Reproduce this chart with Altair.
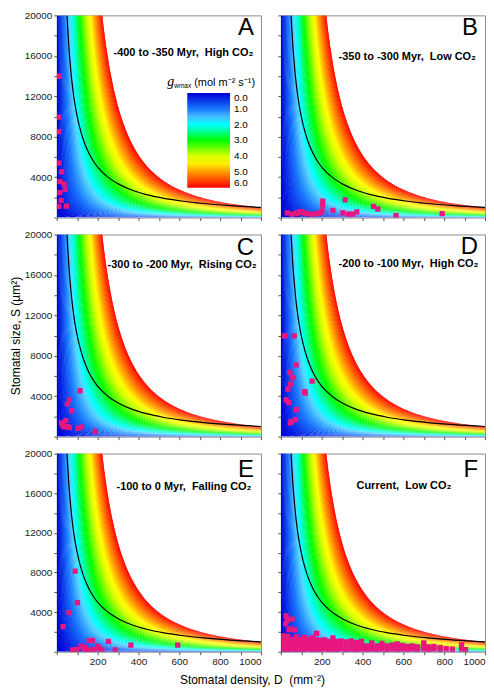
import altair as alt
import numpy as np
import pandas as pd

# ---------------- point data (D = stomatal density mm^-2, S = stomatal size um^2) -------------
A_D = [10, 10, 10, 10, 24, 16, 36, 41, 15, 21, 10, 47]
A_S = [13980, 9940, 8490, 5380, 4530, 3560, 3300, 2790, 2460, 1690, 1110, 1140]

B_D = [31, 55, 80, 104, 128, 153, 177, 193, 75, 96, 112, 202, 205, 205, 255, 304, 315,
       332, 351, 372, 454, 475, 564, 790]
B_S = [456, 330, 390, 524, 390, 330, 390, 456, 456, 583, 456, 650, 1620, 1230, 718, 456,
       1750, 330, 330, 553, 1100, 845, 200, 390]

C_D = [114, 62, 52, 73, 44, 23, 36, 62, 104, 121, 189, 30, 50]
C_S = [4540, 3630, 3210, 2560, 1590, 1360, 970, 910, 810, 970, 520, 1100, 1000]

D_D = [18, 65, 75, 44, 59, 153, 47, 34, 117, 120, 26, 39, 75, 72, 47, 52]
D_S = [9960, 9960, 7110, 6360, 5840, 5480, 5190, 4700, 4440, 4300, 3630, 3370, 2660,
       1690, 1360, 1500]

E_D = [90, 101, 60, 31, 158, 175, 253, 118, 200, 363, 592, 77, 98, 131, 155, 180, 221,
       286, 140, 205]
E_S = [8140, 4960, 3940, 2545, 1120, 1150, 1050, 560, 560, 660, 660, 190, 200, 260, 190,
       230, 200, 190, 450, 350]

F_D = [15, 15, 15, 15, 35, 35, 35, 35, 55, 55, 55, 75, 75, 75, 75, 95, 95, 95,
       115, 115, 115, 115, 135, 135, 135, 155, 155, 155, 155, 175, 175, 175, 175,
       195, 195, 195, 215, 215, 215, 235, 235, 235, 255, 255, 255, 255, 275, 275, 275,
       295, 295, 295, 320, 320, 320, 345, 345, 345, 370, 370, 370, 395, 395, 395,
       420, 420, 445, 445, 445, 470, 470, 495, 495, 495, 520, 520, 545, 545,
       570, 570, 570, 595, 595, 620, 620, 645, 645, 670, 670, 700, 700, 700,
       725, 725, 750, 750, 780, 780, 810, 840, 885, 885, 905,
       26, 31, 55, 23, 47, 68, 40]
F_S = [300, 750, 1200, 1600, 250, 700, 1150, 1550, 350, 800, 1250, 250, 650, 1100, 1500,
       300, 750, 1200, 250, 700, 1150, 1450, 350, 800, 1250, 250, 650, 1100, 1400,
       300, 750, 1200, 1850, 250, 700, 1150, 350, 800, 1200, 250, 650, 1050,
       300, 750, 1150, 1400, 250, 700, 1050, 350, 800, 1100, 250, 650, 1000,
       300, 750, 1100, 250, 650, 950, 300, 700, 1050, 250, 600, 300, 700, 900,
       250, 600, 300, 650, 850, 250, 600, 300, 700, 250, 600, 800, 300, 650,
       250, 550, 300, 600, 250, 500, 300, 650, 900, 250, 500, 300, 550, 250, 450,
       300, 250, 300, 700, 200,
       3630, 3140, 3300, 2800, 2310, 2210, 2240]

# black reference curve
CURVE_D = [50, 53, 57, 62, 67, 75, 83, 95, 110, 130, 155, 185, 220, 260, 310, 370, 440,
           520, 610, 720, 850, 1000]
CURVE_S = [20000, 18900, 17500, 16100, 14900, 13300, 12000, 10500, 9100, 7700, 6450,
           5400, 4550, 3850, 3230, 2700, 2270, 1920, 1640, 1390, 1180, 1000]

# gwmax field: gwmax proportional to D*sqrt(S); the 6.0 contour passes D=223 at S=20000
G_MAX = 6.0
RED_EDGE_D = 223.0
RED_EDGE_S = 20000.0
COEF = G_MAX / (RED_EDGE_D * np.sqrt(RED_EDGE_S))
G_EDGES = np.round(np.linspace(0, G_MAX, 61), 3)
S_GRID = np.unique(np.round(np.concatenate([np.geomspace(1, 20000, 120),
                                            np.linspace(500, 20000, 40)]), 1))
OVERLAP = 2.5  # small overlap (in D units) between neighbouring bands to hide seams

COLOR_STOPS = [0, 1, 1.7, 2, 3, 4, 4.4, 5, 6]
COLOR_RANGE = ["#0000d8", "#1a78ff", "#55d8ff", "#00ffff", "#00ff00", "#d8ff00",
               "#ffff00", "#ff9a00", "#ff0000"]
LEGEND_TICKS = [0, 1, 2, 3, 4, 5, 6]

band_rows = []
for i, (lo, hi) in enumerate(zip(G_EDGES[:-1], G_EDGES[1:])):
    d0 = np.minimum(lo / (COEF * np.sqrt(S_GRID)), 1000)
    d1 = np.minimum(hi / (COEF * np.sqrt(S_GRID)) + (OVERLAP if hi < G_MAX else 0), 1000)
    idx = np.where(d0 < 1000)[0]
    if len(idx) == 0:
        continue
    start = max(idx[0] - 1, 0)
    mid = round((lo + hi) / 2, 3)
    for k in range(start, len(S_GRID)):
        band_rows.append((f"b{i:02d}", -mid, float(S_GRID[k]),
                          round(float(d0[k]), 2), round(float(d1[k]), 2)))
# gn = -gwmax : negated so that the vertical colour bar reads 0.0 at the top
bands = pd.DataFrame(band_rows, columns=["band", "gn", "S", "D0", "D1"])
curve = pd.DataFrame({"D": CURVE_D, "S": CURVE_S})

FONT = "Liberation Sans"
PINK = "#e8177f"
W = 205
NB = "\u00a0"

cscale = alt.Scale(domain=[-v for v in COLOR_STOPS][::-1], range=COLOR_RANGE[::-1],
                   interpolate="rgb", clamp=True)


def panel(letter, subtitle, pd_, ps_, sub_x, sub_y, let_y, h, xlab, ylab, ytitle, xtitle, legend):
    xs = alt.Scale(domain=[0, 1000], nice=False, zero=False)
    ys = alt.Scale(domain=[0, 20000], nice=False, zero=False)
    if xtitle:
        xkw = dict(title=xtitle, titleX=196, titleY=28, titleAlign="center",
                   titleBaseline="middle")
    else:
        xkw = dict(title=None)
    xax = alt.Axis(values=list(range(0, 1001, 100)), labels=xlab, format="d",
                   labelExpr="datum.value > 0 && datum.value % 200 == 0 ? datum.label : ''",
                   labelFlush=True, labelOverlap=False, **xkw)
    yax = alt.Axis(values=list(range(0, 20001, 2000)), labels=ylab, format="d",
                   title=ytitle if ytitle else None,
                   labelExpr="datum.value > 0 && datum.value % 4000 == 0 ? datum.label : ''",
                   labelFlush=False, labelOverlap=False)
    leg = None
    if legend:
        leg = alt.Legend(type="gradient", orient="none", legendX=131, legendY=78,
                         direction="vertical",
                         gradientLength=95, gradientThickness=43, title=None,
                         values=[-v for v in LEGEND_TICKS],
                         labelExpr="format(abs(datum.value), '.1f')", labelFontSize=10,
                         labelFont=FONT, labelColor="black", labelOffset=4,
                         gradientStrokeWidth=0, padding=0)
    base_band = alt.Chart(bands).mark_area(orient="horizontal", clip=True).encode(
        y=alt.Y("S:Q", scale=ys, axis=yax),
        x=alt.X("D0:Q", scale=xs, axis=xax),
        x2="D1:Q",
        detail="band:N",
        fill=alt.Fill("gn:Q", scale=cscale, legend=leg),
    )
    line = alt.Chart(curve).mark_line(color="black", strokeWidth=1.2, clip=True,
                                      interpolate="monotone").encode(
        x=alt.X("D:Q", scale=xs, axis=xax), y=alt.Y("S:Q", scale=ys, axis=yax))
    pts = alt.Chart(pd.DataFrame({"D": pd_, "S": ps_})).mark_square(
        size=28, color=PINK, opacity=1, clip=True).encode(
        x=alt.X("D:Q", scale=xs, axis=xax), y=alt.Y("S:Q", scale=ys, axis=yax))
    let = alt.Chart(pd.DataFrame({"t": [letter]})).mark_text(
        align="right", baseline="alphabetic", fontSize=24, font=FONT, color="black").encode(
        x=alt.value(W - 7), y=alt.value(let_y), text="t:N")
    sub = alt.Chart(pd.DataFrame({"t": [subtitle]})).mark_text(
        align="left", baseline="middle", fontSize=11, fontWeight="bold", font=FONT,
        color="black").encode(x=alt.value(sub_x), y=alt.value(sub_y), text="t:N")
    layers = [base_band, line, pts, let, sub]
    if legend:
        g1 = alt.Chart(pd.DataFrame({"t": ["g"]})).mark_text(
            align="left", baseline="middle", fontSize=14, font="Liberation Serif",
            fontStyle="italic", color="black").encode(x=alt.value(111), y=alt.value(67), text="t:N")
        g2 = alt.Chart(pd.DataFrame({"t": ["wmax"]})).mark_text(
            align="left", baseline="middle", fontSize=6.5, font=FONT,
            color="black").encode(x=alt.value(118), y=alt.value(71), text="t:N")
        g3 = alt.Chart(pd.DataFrame({"t": ["(mol m\u207b\u00b2 s\u207b\u00b9)"]})).mark_text(
            align="left", baseline="middle", fontSize=11, font=FONT,
            color="black").encode(x=alt.value(138), y=alt.value(68), text="t:N")
        layers += [g1, g2, g3]
    return alt.layer(*layers).properties(width=W, height=h)


XT = f"Stomatal density, D{NB} (mm\u207b\u00b2)"
YT = "Stomatal size, S (\u00b5m\u00b2)"
H1, H3 = 203, 199
pA = panel("A", f"-400 to -350 Myr,{NB} High CO\u2082", A_D, A_S, 57, 38, 20, H1, False, True, None, None, True)
pB = panel("B", f"-350 to -300 Myr,{NB} Low CO\u2082", B_D, B_S, 58, 42, 20, H1, False, False, None, None, False)
pC = panel("C", f"-300 to -200 Myr,{NB} Rising CO\u2082", C_D, C_S, 51, 31, 21, H1, False, True, YT, None, False)
pD = panel("D", f"-200 to -100 Myr,{NB} High CO\u2082", D_D, D_S, 58, 30, 20, H1, False, False, None, None, False)
pE = panel("E", f"-100 to 0 Myr,{NB} Falling CO\u2082", E_D, E_S, 60, 34, 24, H3, True, True, None, XT, False)
pF = panel("F", f"Current,{NB} Low CO\u2082", F_D, F_S, 76, 33, 24, H3, True, False, None, None, False)

chart = alt.concat(pA, pB, pC, pD, pE, pF, columns=2, spacing={"row": 17, "column": 20},
                   bounds="flush").resolve_scale(fill="independent").properties(
    padding={"left": 0, "top": 0, "right": 0, "bottom": 0},
).configure_view(stroke="#8c8c8c", strokeWidth=1).configure_axis(
    labelFont=FONT, labelFontSize=10, labelColor="#222222", tickColor="#555555",
    tickSize=3, domain=False, grid=False, labelPadding=2,
    titleFont=FONT, titleFontSize=12, titleFontWeight="normal", titleColor="black",
    titlePadding=2)

chart.save("out.html", embed_options={"renderer": "svg", "actions": False})
